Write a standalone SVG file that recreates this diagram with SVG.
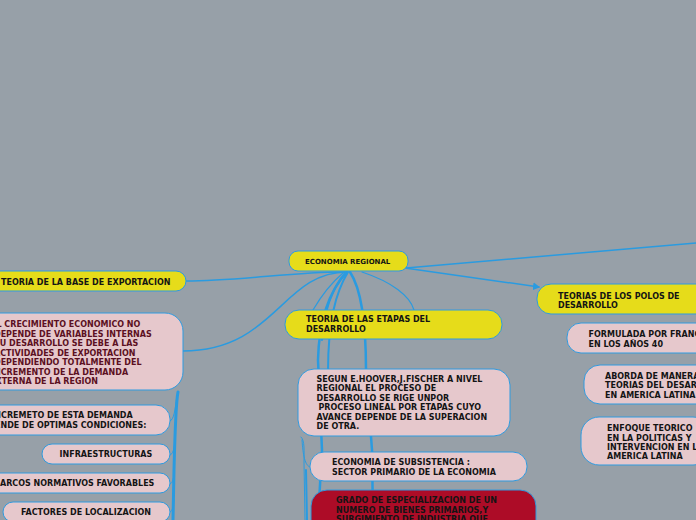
<svg xmlns="http://www.w3.org/2000/svg" width="696" height="520" viewBox="0 0 696 520">
<style>
.bg{fill:#97a0a8}
.y{fill:#e6dc1a;stroke:#2e9be0;stroke-width:1}
.p{fill:#e6c8cc;stroke:#2e9be0;stroke-width:1}
.r{fill:#ad0c27;stroke:#2e9be0;stroke-width:1}
.c{fill:none;stroke:#2a9be0;stroke-linecap:round}
text{font-family:"DejaVu Sans","Verdana",sans-serif;font-weight:bold;font-size:8px;fill:#141414}
text.s{font-size:7px}
.m{fill:#5c1022}
</style>
<defs>
<marker id="ah" markerWidth="8" markerHeight="8" refX="6" refY="4" orient="auto" markerUnits="userSpaceOnUse">
<path d="M0,0 L7,4 L0,8 Z" fill="#2a9be0"/>
</marker>
</defs>
<rect class="bg" x="0" y="0" width="696" height="520"/>
<g id="connectors">
<path class="c" stroke-width="1.5" d="M347,272 C 300,271 240,281 186,281"/>
<path class="c" stroke-width="1.5" d="M347,272 C 282,272 275,351 183,351"/>
<path class="c" stroke-width="1.2" d="M343,273 C 330,284 320,298 313,310"/>
<path class="c" stroke-width="1.2" d="M362,272 C 392,282 410,296 414,310"/>
<path class="c" stroke-width="2.5" d="M347,272 C 330,290 319,320 318,360 L 322,450 L 318,520"/>
<path class="c" stroke-width="2" d="M348,272 C 336,292 328,320 328,372"/>
<path class="c" stroke-width="2" d="M346,272 C 332,288 324,310 322,340"/>
<path class="c" stroke-width="2.5" d="M350,272 C 362,290 366,330 366,370 L 372,450 L 373,520"/>
<path class="c" stroke-width="1.5" d="M406,268 L 696,243"/>
<path class="c" stroke-width="1.5" d="M405,268 L 539,287" marker-end="url(#ah)"/>
<path class="c" stroke-width="3" d="M178,392 C 176,402 175,430 174,470 L 173,520"/>
<path class="c" stroke-width="1" d="M177,396 C 175,410 174,420 170,421"/>
<path class="c" stroke-width="1" d="M175,440 C 174,450 173,454 170,455"/>
<path class="c" stroke-width="1" d="M174,470 C 174,478 173,483 170,484"/>
<path class="c" stroke-width="1" d="M174,500 C 173,506 173,511 170,512"/>
<path class="c" stroke-width="1" d="M301,437 C 305,440 304,452 304,462 L 305,520"/>
<path class="c" stroke-width="1" d="M302,440 C 303,455 305,466 310,467"/>
<path class="c" stroke-width="2" d="M306,470 L 307,520"/>
</g>
<g id="root">
<rect class="y" x="289" y="251" width="119" height="20" rx="9"/>
<text class="s" x="305" y="263.5">ECONOMIA REGIONAL</text>
</g>
<g id="base-export">
<rect class="y" x="-12" y="271" width="198" height="20" rx="10"/>
<text x="1" y="284.5">TEORIA DE LA BASE DE EXPORTACION</text>
</g>
<g id="crecimiento">
<rect class="p" x="-22" y="313" width="205" height="77" rx="18"/>
<text class="m"><tspan x="-9" y="327">EL CRECIMIENTO ECONOMICO NO</tspan><tspan x="-6" y="336.5">DEPENDE DE VARIABLES INTERNAS</tspan><tspan x="-6" y="346">SU DESARROLLO SE DEBE A LAS</tspan><tspan x="-6" y="355.5">ACTIVIDADES DE EXPORTACION</tspan><tspan x="-6" y="365">DEPENDIENDO TOTALMENTE DEL</tspan><tspan x="-9" y="374.5">INCREMENTO DE LA DEMANDA</tspan><tspan x="-10" y="384">EXTERNA DE LA REGION</tspan></text>
</g>
<g id="incremeto">
<rect class="p" x="-30" y="405" width="200" height="30" rx="14"/>
<text><tspan x="-22" y="418">EL INCREMETO DE ESTA DEMANDA</tspan><tspan x="-23" y="427.5">DEPENDE DE OPTIMAS CONDICIONES:</tspan></text>
</g>
<g id="infra">
<rect class="p" x="42" y="444" width="128" height="20" rx="10"/>
<text x="59.5" y="457">INFRAESTRUCTURAS</text>
</g>
<g id="marcos">
<rect class="p" x="-20" y="473" width="190" height="20" rx="10"/>
<text x="-8" y="486">MARCOS NORMATIVOS FAVORABLES</text>
</g>
<g id="factores">
<rect class="p" x="3" y="502" width="167" height="20" rx="10"/>
<text x="21" y="515">FACTORES DE LOCALIZACION</text>
</g>
<g id="etapas">
<rect class="y" x="285" y="310" width="217" height="29" rx="14"/>
<text><tspan x="306" y="322">TEORIA DE LAS ETAPAS DEL</tspan><tspan x="306" y="331.5">DESARROLLO</tspan></text>
</g>
<g id="segun">
<rect class="p" x="298" y="369" width="212" height="67" rx="16"/>
<text><tspan x="316.5" y="381.5">SEGUN E.HOOVER,J.FISCHER A NIVEL</tspan><tspan x="316.5" y="391">REGIONAL EL PROCESO DE</tspan><tspan x="316.5" y="400.5">DESARROLLO SE RIGE UNPOR</tspan><tspan x="318.5" y="410">PROCESO LINEAL POR ETAPAS CUYO</tspan><tspan x="316.5" y="419.5">AVANCE DEPENDE DE LA SUPERACION</tspan><tspan x="316.5" y="429">DE OTRA.</tspan></text>
</g>
<g id="subsistencia">
<rect class="p" x="310" y="452" width="217" height="29" rx="14"/>
<text><tspan x="332" y="464.5">ECONOMIA DE SUBSISTENCIA :</tspan><tspan x="332" y="474.5">SECTOR PRIMARIO DE LA ECONOMIA</tspan></text>
</g>
<g id="grado">
<rect class="r" x="311" y="490" width="225" height="60" rx="16"/>
<text><tspan x="336" y="503">GRADO DE ESPECIALIZACION DE UN</tspan><tspan x="336" y="512.5">NUMERO DE BIENES PRIMARIOS,Y</tspan><tspan x="336" y="522">SURGIMIENTO DE INDUSTRIA QUE</tspan></text>
</g>
<g id="polos">
<rect class="y" x="537" y="284" width="180" height="30" rx="14"/>
<text><tspan x="558" y="298.5">TEORIAS DE LOS POLOS DE</tspan><tspan x="558" y="308">DESARROLLO</tspan></text>
</g>
<g id="formulada">
<rect class="p" x="567" y="323" width="150" height="30" rx="14"/>
<text><tspan x="588.5" y="337">FORMULADA POR FRANCOIS</tspan><tspan x="588.5" y="346.5">EN LOS AÑOS 40</tspan></text>
</g>
<g id="aborda">
<rect class="p" x="584" y="365" width="130" height="39" rx="16"/>
<text><tspan x="605" y="379">ABORDA DE MANERA</tspan><tspan x="605" y="388">TEORIAS DEL DESARROLLO</tspan><tspan x="605" y="397.5">EN AMERICA LATINA</tspan></text>
</g>
<g id="enfoque">
<rect class="p" x="581" y="417" width="130" height="48" rx="18"/>
<text><tspan x="607" y="431">ENFOQUE TEORICO</tspan><tspan x="607" y="440.5">EN LA POLITICAS Y</tspan><tspan x="607" y="450">INTERVENCION EN LA</tspan><tspan x="607" y="459">AMERICA LATINA</tspan></text>
</g>
</svg>
